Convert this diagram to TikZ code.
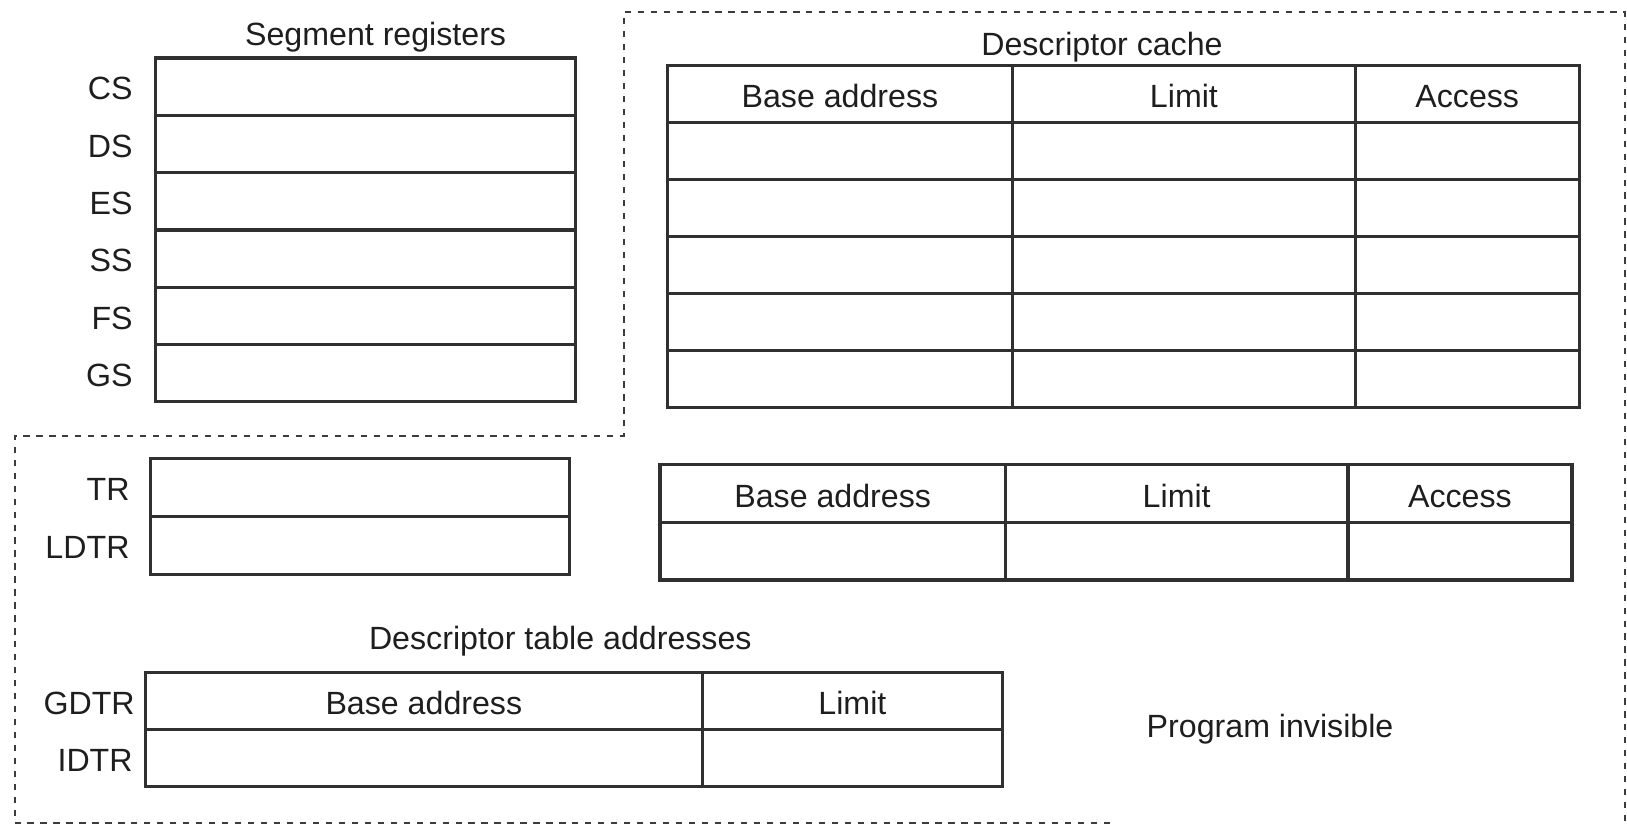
\documentclass[tikz,border=0pt]{standalone}
\usepackage{fontspec}
\setmainfont{Liberation Sans}
\usetikzlibrary{positioning}
\definecolor{ink}{HTML}{1E1E1E}
\definecolor{rule}{HTML}{303030}
\definecolor{frame}{HTML}{3C3C3C}
\newcommand\regfont{\fontsize{31}{37}\selectfont}
\tikzset{
  cell/.style={draw=rule,line width=3.1pt,inner sep=0pt,outer sep=0pt,
    minimum height=55pt,font=\regfont,text=ink,text height=27pt,text depth=0pt},
  regcell/.style={cell,minimum width=405pt},
  basecol/.style={cell,minimum width=333pt},
  limcol/.style={cell,minimum width=330pt},
  acccol/.style={cell,minimum width=216pt},
  reglabel/.style={inner sep=0pt,font=\regfont,text=ink,yshift=-2pt},
  heading/.style={inner sep=0pt,font=\regfont,text=ink},
  boundary/.style={draw=frame,line width=1.9pt,dash pattern=on 6pt off 6.5pt}
}
\begin{document}
\begin{tikzpicture}[x=1pt,y=-1pt]
  \useasboundingbox (0,0) rectangle (1568,795);

  % segment registers
  \node[heading] (segtitle) at (362,36) {Segment registers};
  \node[regcell,minimum height=55.2pt,anchor=north west] (seg1) at (150,56) {};
  \foreach \i [remember=\i as \j (initially 1)] in {2,...,6}
    \node[regcell,minimum height=55.2pt,below=0pt of seg\j] (seg\i) {};
  \foreach \r [count=\i] in {CS,DS,ES,SS,FS,GS}
    \node[reglabel,left=22pt of seg\i] {\r};

  % descriptor cache
  \node[heading] (cachetitle) at (1062,45) {Descriptor cache};
  \node[basecol,anchor=north west] (cb1) at (643,63) {Base address};
  \node[limcol,right=0pt of cb1] (cl1) {Limit};
  \node[acccol,right=0pt of cl1] (ca1) {Access};
  \foreach \i [remember=\i as \j (initially 1)] in {2,...,6}{
    \node[basecol,below=0pt of cb\j] (cb\i) {};
    \node[limcol,below=0pt of cl\j] (cl\i) {};
    \node[acccol,below=0pt of ca\j] (ca\i) {};
  }

  % task and local descriptor table registers
  \node[regcell,minimum width=404pt,minimum height=56pt,anchor=north west] (tr) at (145,442) {};
  \node[regcell,minimum width=404pt,minimum height=56pt,below=0pt of tr] (ldtr) {};
  \node[reglabel,left=20pt of tr] {TR};
  \node[reglabel,left=20pt of ldtr] {LDTR};

  \node[basecol,minimum height=55.5pt,anchor=north west] (sb1) at (636,448) {Base address};
  \node[limcol,minimum height=55.5pt,right=0pt of sb1] (sl1) {Limit};
  \node[acccol,minimum height=55.5pt,right=0pt of sl1] (sa1) {Access};
  \node[basecol,minimum height=55.5pt,below=0pt of sb1] (sb2) {};
  \node[limcol,minimum height=55.5pt,below=0pt of sl1] (sl2) {};
  \node[acccol,minimum height=55.5pt,below=0pt of sa1] (sa2) {};

  % descriptor table addresses
  \node[heading] (dttitle) at (540,618) {Descriptor table addresses};
  \node[cell,minimum width=537pt,anchor=north west] (gb) at (140,648) {Base address};
  \node[cell,minimum width=289pt,right=0pt of gb] (gl) {Limit};
  \node[cell,minimum width=537pt,below=0pt of gb] (ib) {};
  \node[cell,minimum width=289pt,below=0pt of gl] (il) {};
  \node[reglabel,left=10pt of gb] {GDTR};
  \node[reglabel,left=12pt of ib] {IDTR};

  \node[heading] (invisible) at (1224,703) {Program invisible};

  \draw[boundary] (1070,793) -- (14,793) -- (14,420) -- (601,420) -- (601,12)
    -- (1566,12) -- (1566,795);
\end{tikzpicture}
\end{document}
